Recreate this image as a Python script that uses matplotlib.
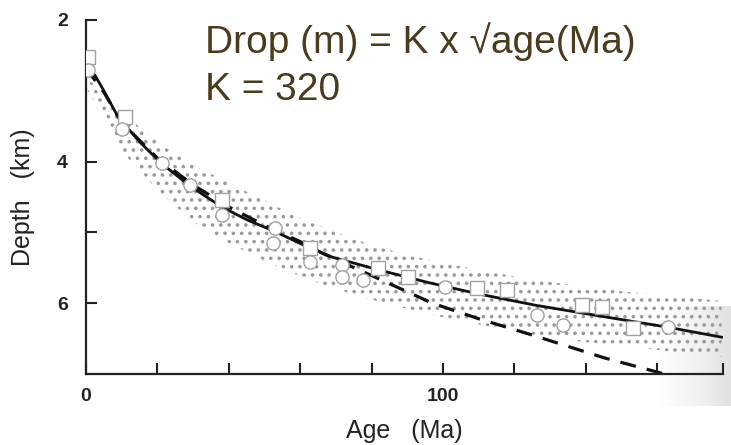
import numpy as np
import matplotlib
matplotlib.use("Agg")
import matplotlib.pyplot as plt

# DATA
line_age = [0, 2.5, 5, 9, 15, 21, 27, 32, 38, 45, 53, 61, 69, 82, 96, 110, 126, 145, 163, 178]
line_depth = [2.68, 2.78, 3.0, 3.37, 3.72, 4.02, 4.26, 4.44, 4.64, 4.82, 4.99, 5.18, 5.35, 5.53,
              5.71, 5.87, 6.03, 6.19, 6.34, 6.48]

sqrt_age = [0, 5, 10, 20, 30, 40, 50, 60, 66, 80, 97, 110, 125, 145, 162]
sqrt_depth = [2.68, 3.02, 3.45, 3.95, 4.33, 4.64, 4.9, 5.13, 5.29, 5.61, 6.0, 6.22, 6.45, 6.77, 7.0]

sq_age = [0.6, 10.9, 38.1, 62.7, 81.8, 90.2, 109.5, 117.9, 138.9, 144.5, 153.2]
sq_depth = [2.52, 3.37, 4.54, 5.22, 5.50, 5.63, 5.79, 5.81, 6.03, 6.05, 6.35]

circ_age = [0.6, 10.1, 21.3, 29.1, 38.1, 52.9, 52.4, 62.7, 71.7, 71.7, 77.6, 100.6, 126.3, 133.6, 163]
circ_depth = [2.71, 3.54, 4.02, 4.33, 4.75, 4.94, 5.15, 5.42, 5.46, 5.63, 5.67, 5.77, 6.17, 6.31, 6.34]

band_age = [0, 10, 20, 30, 40, 50, 60, 70, 80, 90, 100, 110, 120, 130, 140, 150, 160, 170, 178]
band_top = [2.8, 3.3, 3.72, 4.05, 4.3, 4.55, 4.8, 5.0, 5.18, 5.32, 5.43, 5.53, 5.62, 5.7, 5.77, 5.83, 5.88, 5.93, 5.97]
band_bot = [2.95, 3.85, 4.4, 4.85, 5.15, 5.4, 5.62, 5.8, 5.95, 6.08, 6.2, 6.3, 6.4, 6.48, 6.55, 6.6, 6.66, 6.72, 6.76]

FONT = ['Liberation Sans', 'DejaVu Sans']
plt.rcParams['hatch.linewidth'] = 1.4
plt.rcParams['hatch.color'] = '#9a9a9a'

fig = plt.figure(figsize=(7.31, 4.45), dpi=100)
ax = fig.add_axes([86/731, 1 - 374/445, 637/731, 354/445])

# scan shadow lower right
shade = np.tile(np.linspace(0.0, 0.25, 40), (20, 1))
ax.imshow(shade, extent=[160, 185, 7.45, 6.05], aspect='auto', cmap='Greys',
          vmin=0, vmax=1, clip_on=False, zorder=0, interpolation='bilinear')

# stippled envelope
ax.fill_between(band_age, band_top, band_bot, facecolor='none', edgecolor='#9a9a9a',
                hatch='..', linewidth=0, zorder=1)

ax.plot(sqrt_age, sqrt_depth, color='#111111', lw=2.3, dashes=(5, 3.5), zorder=2)
ax.plot(line_age, line_depth, color='#111111', lw=2.0, zorder=3)

ax.plot(sq_age, sq_depth, 's', ms=9.5, mfc='white', mec='#a0a0a0', mew=1.0, zorder=4)
ax.plot(circ_age, circ_depth, 'o', ms=9.5, mfc='white', mec='#a0a0a0', mew=1.0, zorder=5)

ax.set_xlim(0, 178.4)
ax.set_ylim(7, 2)

for s in ['top', 'right']:
    ax.spines[s].set_visible(False)
for s in ['left', 'bottom']:
    ax.spines[s].set_linewidth(1.6)
    ax.spines[s].set_color('#222222')

ax.set_xticks([0, 20, 40, 60, 80, 100, 120, 140, 160, 178.4])
ax.set_xticklabels(['0', '', '', '', '', '100', '', '', '', ''])
ax.set_yticks([2, 4, 5, 6])
ax.set_yticklabels(['2', '4', '', '6'])
ax.tick_params(direction='in', length=8, width=1.5, color='#222222',
               labelsize=14, labelcolor='#222222')
ax.tick_params(axis='y', pad=13)
ax.tick_params(axis='x', pad=10)
for lab in ax.get_xticklabels() + ax.get_yticklabels():
    lab.set_fontweight('bold')
    lab.set_family(FONT)

ax.set_xlabel("Age   (Ma)", fontsize=18, color='#222222', family=FONT, labelpad=10)
ax.set_ylabel("Depth   (km)", fontsize=18, color='#222222', family=FONT, labelpad=16)

fig.text(205/731, 1 - 53/445, "Drop (m) = K x \u221aage(Ma)", fontsize=28, color='#4a3b1c',
         family=FONT, va='baseline', ha='left')
fig.text(205/731, 1 - 100/445, "K = 320", fontsize=28, color='#4a3b1c',
         family=FONT, va='baseline', ha='left')

fig.savefig("out.png", dpi=100)
